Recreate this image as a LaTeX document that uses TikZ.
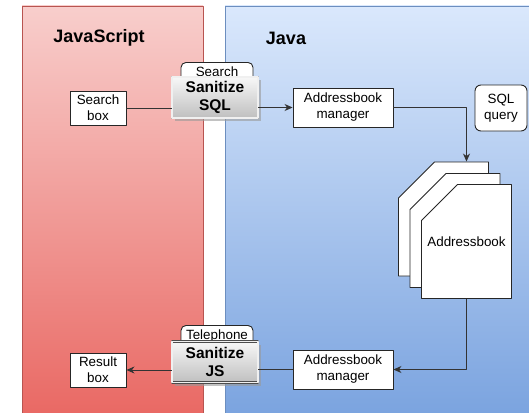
\documentclass[tikz,border=0pt]{standalone}
\usepackage{fontspec}
\setmainfont{Liberation Sans}
\usetikzlibrary{arrows.meta,shadows,shapes.misc}

\definecolor{jsTop}{RGB}{248,206,204}
\definecolor{jsBot}{RGB}{233,104,99}
\definecolor{jsLine}{RGB}{184,84,80}
\definecolor{javaTop}{RGB}{218,232,252}
\definecolor{javaBot}{RGB}{122,163,223}
\definecolor{javaLine}{RGB}{108,142,191}

\begin{document}
\begin{tikzpicture}[x=1pt, y=-1pt, line join=round,
    txt/.style={font=\fontsize{13.4}{16}\selectfont},
    title/.style={font=\bfseries\fontsize{18}{20}\selectfont},
    box/.style={txt, draw=black!85, fill=white, line width=0.9pt, align=center,
      inner sep=0pt, minimum width=56pt, minimum height=34pt},
    mgrbox/.style={box, minimum width=100pt, minimum height=39pt},
    querybox/.style={box, rounded corners=6pt, minimum width=52pt, minimum height=46pt},
    tab/.style={txt, draw=black!85, fill=white, line width=0.9pt, rounded corners=5pt,
      anchor=north, minimum width=72pt, inner xsep=0pt, inner ysep=1pt,
      text height=13pt, text depth=10pt},
    sanitize/.style={draw=gray!60!black, line width=0.7pt, double=gray!12,
      double distance=1.2pt, top color=gray!6, bottom color=gray!50,
      drop shadow={shadow xshift=3pt, shadow yshift=-3pt, fill=black!40, opacity=.6},
      align=center, inner sep=0pt, minimum width=86pt, minimum height=41pt,
      font=\bfseries\fontsize{15.5}{18.5}\selectfont},
    doc/.style={txt, chamfered rectangle, chamfered rectangle corners=north west,
      chamfered rectangle xsep=34pt, chamfered rectangle ysep=31pt,
      draw=black!85, fill=white, line width=0.9pt, inner sep=0pt,
      minimum width=90pt, minimum height=114pt},
    wire/.style={draw=black!80, line width=0.9pt},
    flow/.style={wire, -{Stealth[length=8pt, width=7pt, inset=2.5pt]}}]

  \useasboundingbox (0,0) rectangle (529,412);
  \clip (0,0) rectangle (529,412);

  % Panels
  \shade[top color=jsTop, bottom color=jsBot, draw=jsLine, line width=0.8pt]
    (22,6) rectangle (203,418);
  \shade[top color=javaTop, bottom color=javaBot, draw=javaLine, line width=0.8pt]
    (225,6) rectangle (540,418);
  \node[title] (jstitle) at (99,38) {JavaScript};
  \node[title] (javatitle) at (286,38) {Java};

  % Search path
  \node[box] (search) at (98,108) {Search\\box};
  \node[tab] (tabsql) at (217,62) {Search};
  \node[sanitize] (sansql) at (215,97.5) {Sanitize\\SQL};
  \node[mgrbox] (mgrin) at (343,107.5) {Addressbook\\manager};
  \node[querybox] (query) at (501,108) {SQL\\query};

  % Stack of address books (same text box for all, so the corners match)
  \node[doc] (doc1) at (443.5,219) {\phantom{Addressbook}};
  \node[doc] (doc2) at (455,230.5) {\phantom{Addressbook}};
  \node[doc] (doc3) at (466.5,241.5) {Addressbook};

  % Result path
  \node[mgrbox] (mgrout) at (343,369.5) {Addressbook\\manager};
  \node[tab] (tabjs) at (217,325) {Telephone};
  \node[sanitize] (sanjs) at (215,362) {Sanitize\\JS};
  \node[box] (result) at (98,370) {Result\\box};

  % Connectors
  \draw[wire] (search) -- (search -| sansql.west);
  \draw[flow] (sansql.east |- mgrin) -- (mgrin);
  \draw[flow] (mgrin.east) -| (doc3.north |- doc1.north);
  \draw[flow] (doc3.south) |- (mgrout.east);
  \draw[wire] (mgrout) -- (mgrout -| sanjs.east);
  \draw[flow] (result -| sanjs.west) -- (result);
\end{tikzpicture}
\end{document}
